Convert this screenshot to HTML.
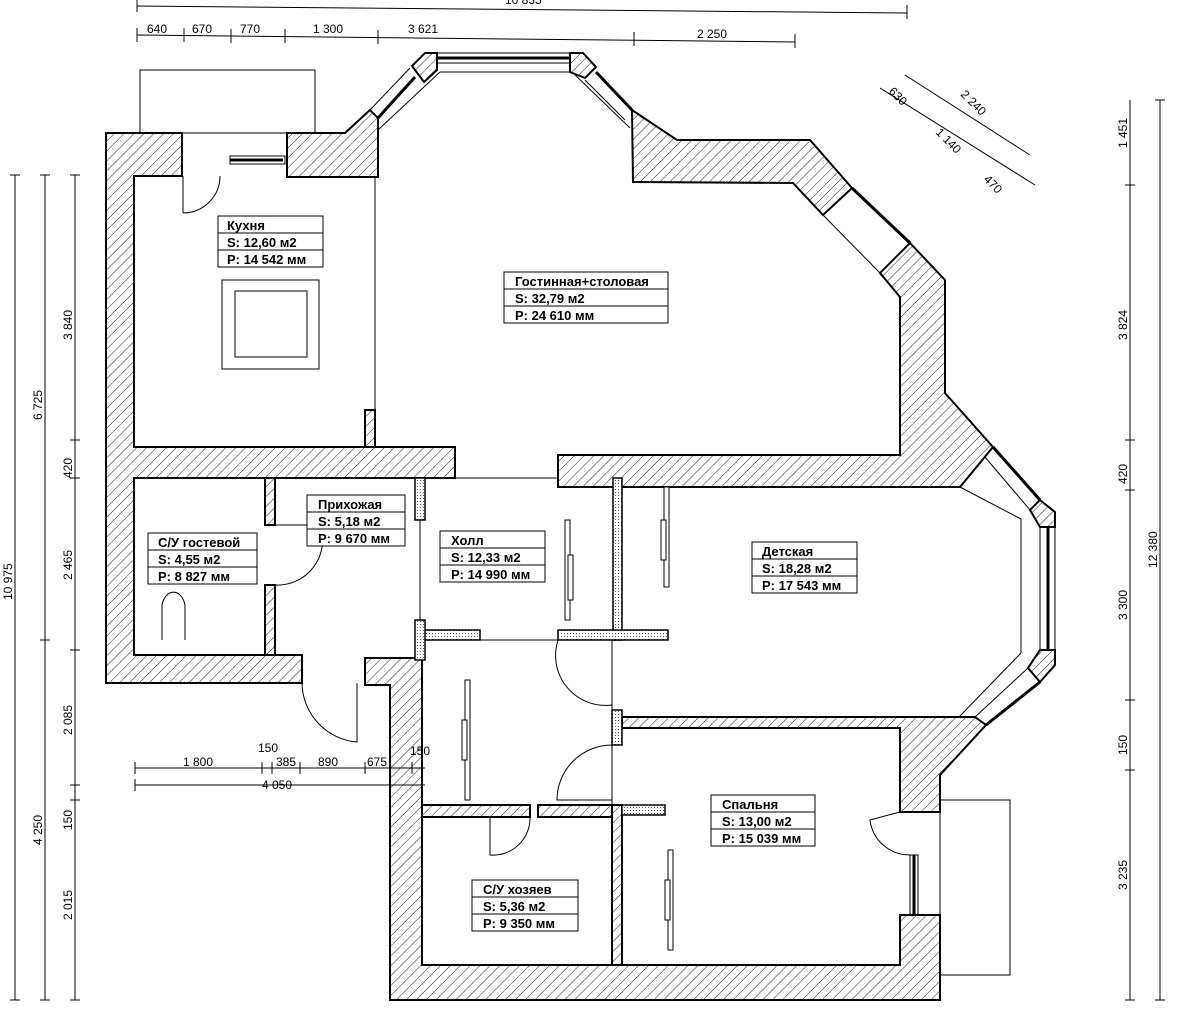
<!DOCTYPE html>
<html><head><meta charset="utf-8"><style>
html,body{margin:0;padding:0;background:#fff;}
svg{display:block;}
text{font-family:"Liberation Sans",sans-serif;fill:#000;}
.lb{font-size:13px;font-weight:bold;}
.dm{font-size:12px;}
</style></head><body>
<svg width="1200" height="1015" viewBox="0 0 1200 1015" xmlns="http://www.w3.org/2000/svg">
<defs>
<pattern id="h" width="7" height="7" patternUnits="userSpaceOnUse" patternTransform="rotate(45)">
<rect width="7" height="7" fill="#fff"/><line x1="0" y1="0" x2="0" y2="7" stroke="#000" stroke-width="0.9"/>
</pattern>
<pattern id="d" width="3" height="3" patternUnits="userSpaceOnUse"><rect width="3" height="3" fill="#fff"/><rect width="1" height="1" fill="#555"/></pattern>
</defs>
<rect width="1200" height="1015" fill="#fff"/>
<g stroke="#000" fill="none" stroke-width="1">
<!-- balconies -->
<rect x="140" y="70" width="175" height="63"/>
<rect x="940" y="800" width="70" height="175"/>
<!-- stove -->
<rect x="222" y="280" width="97" height="89"/>
<rect x="235" y="291" width="72" height="66"/>
<!-- thin boundary lines -->
<line x1="375" y1="177" x2="375" y2="410"/>
<polyline points="378,130 440,72 572,72 630,128"/>
<line x1="420" y1="478" x2="420" y2="640"/>
<line x1="455" y1="478" x2="558" y2="478"/>
<line x1="425" y1="640" x2="612" y2="640"/>
<line x1="612" y1="640" x2="612" y2="805"/>
<polyline points="960,487 1021,519 1021,653 959,717"/>
</g>
<g stroke="#000" stroke-width="2" fill="url(#h)">
<polygon points="106,133 182,133 182,176 134,176 134,447 455,447 455,478 134,478 134,655 302,655 302,683 106,683"/>
<rect x="365" y="410" width="10" height="37"/>
<rect x="265" y="478" width="10" height="47"/>
<rect x="265" y="585" width="10" height="70"/>
<polygon points="287,133 345,133 370,110 378,118 378,177 287,177"/>
<polygon points="412,66 425,53 437,53 437,70 424,82"/>
<polygon points="570,53 583,53 596,67 585,78 570,72"/>
<polygon points="632,110 677,140 810,140 852,188 823,215 793,183 633,182"/>
<polygon points="910,243 945,280 945,393 993,447 960,487 558,487 558,455 900,455 900,297 880,273"/>
<polygon points="1040,500 1055,512 1055,527 1040,527 1030,510"/>
<polygon points="1040,650 1055,650 1055,665 1040,682 1028,668"/>
<polygon points="622,717 975,717 986,725 940,775 940,812 900,812 900,728 622,728"/>
<polygon points="365,658 422,658 422,965 900,965 900,915 940,915 940,1000 390,1000 390,685 365,685"/>
<rect x="422" y="805" width="108" height="12"/>
<rect x="538" y="805" width="74" height="12"/>
<rect x="612" y="805" width="10" height="160"/>
</g>
<!-- dotted partitions -->
<g stroke="#000" stroke-width="1.5" fill="url(#d)">
<rect x="613" y="478" width="9" height="162"/>
<rect x="558" y="630" width="110" height="10"/>
<rect x="420" y="630" width="60" height="10"/>
<rect x="415" y="478" width="10" height="42"/>
<rect x="415" y="620" width="10" height="40"/>
<rect x="612" y="710" width="10" height="35"/>
<rect x="622" y="805" width="43" height="10"/>
</g>
<!-- windows -->
<g stroke="#000" fill="none">
<line x1="230" y1="160" x2="283" y2="160" stroke-width="3"/>
<rect x="230" y="156" width="55" height="8" stroke-width="1"/>
<line x1="378" y1="118" x2="415" y2="77" stroke-width="3"/>
<line x1="370" y1="110" x2="410" y2="68" stroke-width="1"/>
<line x1="437" y1="58" x2="570" y2="58" stroke-width="3"/>
<rect x="437" y="53" width="133" height="10" stroke-width="1"/>
<line x1="596" y1="72" x2="632" y2="110" stroke-width="3"/>
<line x1="585" y1="80" x2="625" y2="120" stroke-width="1"/>
<line x1="852" y1="188" x2="910" y2="243" stroke-width="3"/>
<line x1="823" y1="215" x2="880" y2="273" stroke-width="1"/>
<line x1="993" y1="447" x2="1040" y2="500" stroke-width="3"/>
<line x1="985" y1="457" x2="1030" y2="510" stroke-width="1"/>
<rect x="1040" y="527" width="15" height="123" stroke-width="1"/>
<line x1="1048" y1="527" x2="1048" y2="650" stroke-width="3"/>
<line x1="1040" y1="682" x2="986" y2="725" stroke-width="3"/>
<line x1="1028" y1="668" x2="975" y2="717" stroke-width="1"/>
<rect x="910" y="855" width="8" height="60" stroke-width="1"/>
<line x1="914" y1="855" x2="914" y2="915" stroke-width="3"/>
</g>
<!-- wardrobe doors -->
<g stroke="#000" fill="#fff" stroke-width="1">
<rect x="565" y="520" width="5" height="100"/><rect x="568" y="555" width="5" height="45"/>
<rect x="465" y="680" width="5" height="120"/><rect x="462" y="720" width="5" height="40"/>
<rect x="664" y="487" width="5" height="100"/><rect x="661" y="520" width="5" height="40"/>
<rect x="668" y="850" width="5" height="100"/><rect x="665" y="880" width="5" height="40"/>
</g>
<!-- door arcs -->
<g stroke="#000" fill="none" stroke-width="1">
<path d="M183,213 L183,176 M220,176 A37,37 0 0 1 183,213"/>
<path d="M275,525 L320,525 A45,45 0 0 1 275,585"/>
<path d="M302,683 A60,60 0 0 0 357,742 L357,683"/>
<path d="M558,640 A50,50 0 0 0 612,705"/>
<path d="M612,745 A55,55 0 0 0 557,800 L612,800"/>
<path d="M530,817 A37,37 0 0 1 490,855 L490,817"/>
<path d="M900,812 L870,820 A40,40 0 0 0 910,855"/>
<path d="M162,640 L162,605 A12,18 0 0 1 185,605 L185,640"/>
</g>
<!-- labels -->
<g stroke="#000" fill="#fff" stroke-width="1">
<rect x="218" y="216" width="105" height="51"/><line x1="218" y1="233" x2="323" y2="233"/><line x1="218" y1="250" x2="323" y2="250"/>
<rect x="504" y="272" width="164" height="51"/><line x1="504" y1="289" x2="668" y2="289"/><line x1="504" y1="306" x2="668" y2="306"/>
<rect x="148" y="533" width="109" height="51"/><line x1="148" y1="550" x2="257" y2="550"/><line x1="148" y1="567" x2="257" y2="567"/>
<rect x="307" y="495" width="98" height="51"/><line x1="307" y1="512" x2="405" y2="512"/><line x1="307" y1="529" x2="405" y2="529"/>
<rect x="440" y="531" width="105" height="51"/><line x1="440" y1="548" x2="545" y2="548"/><line x1="440" y1="565" x2="545" y2="565"/>
<rect x="752" y="542" width="105" height="51"/><line x1="752" y1="559" x2="857" y2="559"/><line x1="752" y1="576" x2="857" y2="576"/>
<rect x="711" y="795" width="104" height="51"/><line x1="711" y1="812" x2="815" y2="812"/><line x1="711" y1="829" x2="815" y2="829"/>
<rect x="472" y="880" width="106" height="51"/><line x1="472" y1="897" x2="578" y2="897"/><line x1="472" y1="914" x2="578" y2="914"/>
</g>
<g class="lb">
<text x="227" y="230" class="lb">Кухня</text><text x="227" y="247" class="lb">S: 12,60 м2</text><text x="227" y="264" class="lb">P: 14 542 мм</text>
<text x="515" y="286" class="lb">Гостинная+столовая</text><text x="515" y="303" class="lb">S: 32,79 м2</text><text x="515" y="320" class="lb">P: 24 610 мм</text>
<text x="158" y="547" class="lb">С/У гостевой</text><text x="158" y="564" class="lb">S: 4,55 м2</text><text x="158" y="581" class="lb">P: 8 827 мм</text>
<text x="318" y="509" class="lb">Прихожая</text><text x="318" y="526" class="lb">S: 5,18 м2</text><text x="318" y="543" class="lb">P: 9 670 мм</text>
<text x="451" y="545" class="lb">Холл</text><text x="451" y="562" class="lb">S: 12,33 м2</text><text x="451" y="579" class="lb">P: 14 990 мм</text>
<text x="762" y="556" class="lb">Детская</text><text x="762" y="573" class="lb">S: 18,28 м2</text><text x="762" y="590" class="lb">P: 17 543 мм</text>
<text x="722" y="809" class="lb">Спальня</text><text x="722" y="826" class="lb">S: 13,00 м2</text><text x="722" y="843" class="lb">P: 15 039 мм</text>
<text x="483" y="894" class="lb">С/У хозяев</text><text x="483" y="911" class="lb">S: 5,36 м2</text><text x="483" y="928" class="lb">P: 9 350 мм</text>
</g>
<!-- dimensions -->
<g stroke="#000" stroke-width="1" fill="none">
<line x1="137" y1="6" x2="907" y2="13"/>
<line x1="137" y1="35" x2="795" y2="42"/>
<path d="M137,28v14M184,28v14M231,29v14M285,29v14M378,30v14M634,32v14M795,34v14M137,0v12M907,5v14"/>
<line x1="15" y1="175" x2="15" y2="1000"/>
<line x1="45" y1="175" x2="45" y2="1000"/>
<line x1="75" y1="175" x2="75" y2="1000"/>
<path d="M10,175h10M40,175h10M40,640h10M70,175h10M70,440h10M70,478h10M70,650h10M70,785h10M70,800h10M40,1000h10M10,1000h10M70,1000h10"/>
<line x1="1130" y1="100" x2="1130" y2="1000"/>
<line x1="1160" y1="100" x2="1160" y2="1000"/>
<path d="M1125,185h10M1125,440h10M1125,490h10M1125,700h10M1125,770h10M1125,1000h10M1155,100h10M1155,1000h10"/>
<line x1="135" y1="768" x2="425" y2="768"/>
<line x1="135" y1="785" x2="425" y2="785"/>
<path d="M135,762v12M262,762v12M272,762v12M300,762v12M365,762v12M412,762v12M135,779v12"/>
<line x1="880" y1="88" x2="1035" y2="185"/>
<line x1="905" y1="75" x2="1030" y2="155"/>
</g>
<g class="dm">
<text x="147" y="33">640</text><text x="192" y="33">670</text><text x="240" y="33">770</text><text x="313" y="33">1 300</text><text x="408" y="33">3 621</text><text x="697" y="38">2 250</text>
<text x="505" y="4">10 835</text>
<text x="183" y="766">1 800</text><text x="258" y="752">150</text><text x="276" y="766">385</text><text x="318" y="766">890</text><text x="367" y="766">675</text><text x="410" y="755">150</text><text x="262" y="789">4 050</text>
<text transform="translate(12,600) rotate(-90)">10 975</text>
<text transform="translate(42,420) rotate(-90)">6 725</text>
<text transform="translate(42,845) rotate(-90)">4 250</text>
<text transform="translate(72,340) rotate(-90)">3 840</text>
<text transform="translate(72,478) rotate(-90)">420</text>
<text transform="translate(72,580) rotate(-90)">2 465</text>
<text transform="translate(72,735) rotate(-90)">2 085</text>
<text transform="translate(72,830) rotate(-90)">150</text>
<text transform="translate(72,920) rotate(-90)">2 015</text>
<text transform="translate(1127,148) rotate(-90)">1 451</text>
<text transform="translate(1127,340) rotate(-90)">3 824</text>
<text transform="translate(1127,484) rotate(-90)">420</text>
<text transform="translate(1127,620) rotate(-90)">3 300</text>
<text transform="translate(1127,755) rotate(-90)">150</text>
<text transform="translate(1127,890) rotate(-90)">3 235</text>
<text transform="translate(1157,568) rotate(-90)">12 380</text>
<text transform="translate(888,92) rotate(45)">630</text>
<text transform="translate(960,95) rotate(45)">2 240</text>
<text transform="translate(935,133) rotate(45)">1 140</text>
<text transform="translate(983,180) rotate(45)">470</text>
</g>
</svg>
</body></html>
